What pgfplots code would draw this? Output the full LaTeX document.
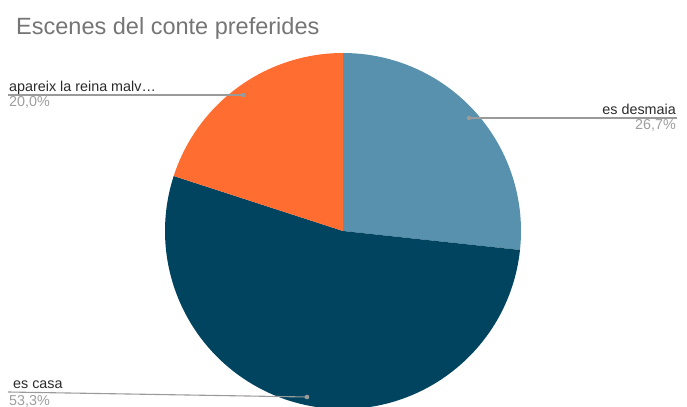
\documentclass[border=0pt]{standalone}
\usepackage{pgfplots}
\usepackage{pgfplotstable}
\pgfplotsset{compat=1.18}
\usepackage{fontspec}
\setmainfont{Liberation Sans}

\definecolor{cDesm}{HTML}{5891AD}
\definecolor{cCasa}{HTML}{00445F}
\definecolor{cReina}{HTML}{FF6D31}
\definecolor{cTitle}{HTML}{757575}
\definecolor{cLab}{HTML}{2A2A2A}
\definecolor{cPct}{HTML}{9E9E9E}
\definecolor{cLead}{HTML}{9A9A9A}

% percentages of the three slices, clockwise from 12 o'clock
\pgfplotstableread{
value
26.7
53.3
20.0
}\scenes

\begin{document}
\begin{tikzpicture}
  \pgfplotstablegetelem{0}{value}\of\scenes \let\vA\pgfplotsretval
  \pgfplotstablegetelem{1}{value}\of\scenes \let\vB\pgfplotsretval
  \pgfplotstablegetelem{2}{value}\of\scenes \let\vC\pgfplotsretval
  \pgfmathsetmacro\aA{90-3.6*\vA}
  \pgfmathsetmacro\aB{\aA-3.6*\vB}
  \pgfmathsetmacro\aC{\aB-3.6*\vC}
  \useasboundingbox (0,0) rectangle (687bp,407bp);
  \begin{axis}[
    scale only axis,
    width=687bp, height=407bp,
    xmin=0, xmax=687,
    ymin=-407, ymax=0,
    hide axis,
  ]
    % slices
    \fill[cDesm] (axis cs:343,-231) -- ++(90:178bp)
      arc[start angle=90, end angle=\aA, radius=178bp] -- cycle;
    \fill[cCasa] (axis cs:343,-231) -- ++(\aA:178bp)
      arc[start angle=\aA, end angle=\aB, radius=178bp] -- cycle;
    \fill[cReina] (axis cs:343,-231) -- ++(\aB:178bp)
      arc[start angle=\aB, end angle=\aC, radius=178bp] -- cycle;

    % leader lines
    \draw[cLead, line width=1.1bp] (axis cs:243,-95) -- (axis cs:8,-95);
    \fill[cLead] (axis cs:243,-95) circle[radius=2.3bp];
    \draw[cLead, line width=1.1bp] (axis cs:469,-118) -- (axis cs:677,-118);
    \fill[cLead] (axis cs:469,-118) circle[radius=2.3bp];
    \draw[cLead, line width=1.1bp] (axis cs:307,-397) -- (axis cs:8,-392);
    \fill[cLead] (axis cs:307,-397) circle[radius=2.3bp];

    % title
    \node[anchor=base west, inner sep=0, text=cTitle,
          font=\fontsize{23.6}{28}\selectfont] at (axis cs:16,-34.5)
      {Escenes del conte preferides};

    % labels
    \node[anchor=base west, inner sep=0, text=cLab,
          font=\fontsize{14.4}{16}\selectfont] at (axis cs:9,-92)
      {apareix la reina malv…};
    \node[anchor=base west, inner sep=0, text=cPct,
          font=\fontsize{14.4}{16}\selectfont] at (axis cs:9,-106.5)
      {20,0\%};
    \node[anchor=base east, inner sep=0, text=cLab,
          font=\fontsize{14.4}{16}\selectfont] at (axis cs:676,-114.5)
      {es desmaia};
    \node[anchor=base east, inner sep=0, text=cPct,
          font=\fontsize{14.4}{16}\selectfont] at (axis cs:676,-129.5)
      {26,7\%};
    \node[anchor=base west, inner sep=0, text=cLab,
          font=\fontsize{14.4}{16}\selectfont] at (axis cs:13,-388)
      {es casa};
    \node[anchor=base west, inner sep=0, text=cPct,
          font=\fontsize{14.4}{16}\selectfont] at (axis cs:9,-405)
      {53,3\%};
  \end{axis}
\end{tikzpicture}
\end{document}
